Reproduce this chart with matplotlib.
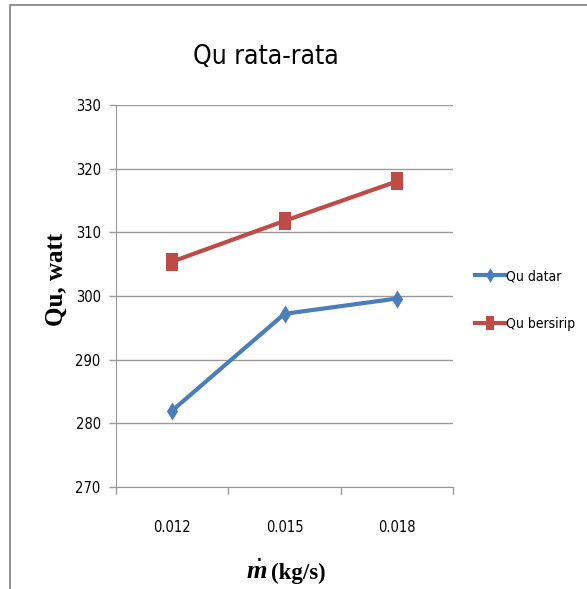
import matplotlib
matplotlib.use("Agg")
import matplotlib.pyplot as plt
import numpy as np
from matplotlib.patches import Rectangle

# mass flow rate categories and average useful heat (watt)
flow_rates = ["0.012", "0.015", "0.018"]
qu_datar = [282.0, 297.2, 299.6]
qu_bersirip = [305.4, 311.8, 318.0]
y_ticks = [270, 280, 290, 300, 310, 320, 330]

narrow = ["DejaVu Sans"]
serif = ["Liberation Serif", "DejaVu Serif"]
plt.rcParams["mathtext.fontset"] = "custom"
plt.rcParams["mathtext.it"] = "Liberation Serif:italic:bold"

blue = "#4a7ebb"
red = "#be4b48"
grey = "#9a9a9a"

# tall markers
tall_square = [(-0.62, -1), (0.62, -1), (0.62, 1), (-0.62, 1), (-0.62, -1)]
tall_diamond = [(0, -1), (0.62, 0), (0, 1), (-0.62, 0), (0, -1)]

fig = plt.figure(figsize=(5.87, 5.89), dpi=100)
ax = fig.add_axes([116 / 587, 1 - 487 / 589, 337 / 587, 382 / 589])

# chart frame
fig.patches.append(Rectangle((10 / 587, -0.05), 1.1, 1.05 - 5 / 589,
                             transform=fig.transFigure, fill=False,
                             edgecolor="#7f7f7f", linewidth=1.2))

x = np.arange(len(flow_rates)) + 0.5
ax.plot(x, qu_datar, color=blue, linewidth=3.0, marker=tall_diamond,
        markersize=13, markeredgewidth=0, label="Qu datar")
ax.plot(x, qu_bersirip, color=red, linewidth=3.0, marker=tall_square,
        markersize=13, markeredgewidth=0, label="Qu bersirip")

ax.set_xlim(0, len(flow_rates))
ax.set_ylim(270, 330)
ax.set_yticks(y_ticks)
ax.set_yticklabels([str(v) for v in y_ticks], fontfamily=narrow,
                   fontstretch="condensed", fontsize=10.5)
ax.set_xticks(np.arange(len(flow_rates) + 1))
ax.set_xticklabels([])
ax.set_xticks(x, minor=True)
ax.set_xticklabels(flow_rates, minor=True, fontfamily=narrow,
                   fontstretch="condensed", fontsize=10.5)
ax.tick_params(axis="x", which="minor", length=0, pad=24)
ax.tick_params(axis="both", which="major", length=5, color=grey, width=1)
ax.tick_params(axis="y", pad=6)

ax.grid(axis="y", color=grey, linewidth=1)
ax.set_axisbelow(True)
for side in ["top", "right"]:
    ax.spines[side].set_visible(False)
for side in ["left", "bottom"]:
    ax.spines[side].set_color(grey)

fig.text(266 / 587, 1 - 57 / 589, "Qu rata-rata", fontfamily=narrow,
         fontstretch="condensed", fontsize=19, ha="center", va="center")
fig.text(56 / 587, 1 - 279 / 589, "Qu, watt", fontfamily=serif,
         fontweight="bold", fontsize=18, rotation=90, ha="center", va="center")

# x axis label: bold italic m-dot, then the unit
fig.text(267 / 587, 1 - 579 / 589, r"$\dot{m}$", fontsize=19,
         ha="right", va="baseline")
fig.text(271 / 587, 1 - 579 / 589, "(kg/s)", fontfamily=serif,
         fontweight="bold", fontsize=16.5, ha="left", va="baseline")

fig.legend(loc="center left", bbox_to_anchor=(463 / 587, 1 - 300 / 589),
           frameon=False, handlelength=2.1, handletextpad=0.1,
           labelspacing=2.4, markerscale=0.8,
           prop={"family": narrow, "stretch": "condensed", "size": 10})

fig.savefig("out.png", dpi=100)
